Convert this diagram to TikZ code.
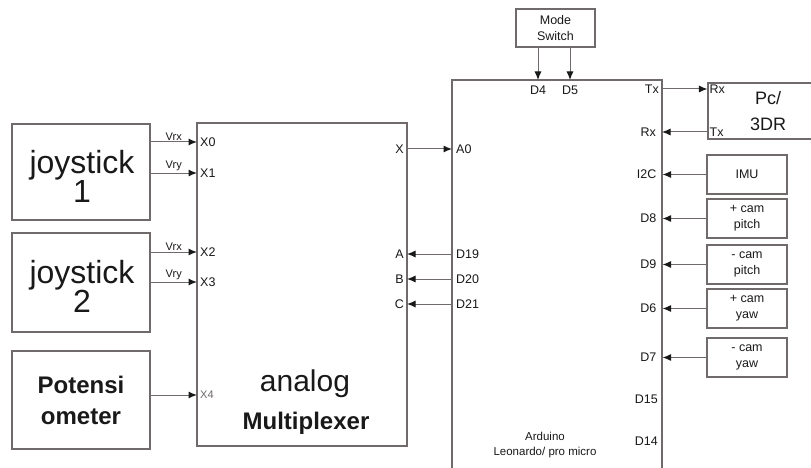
\documentclass[tikz,border=0pt]{standalone}
\usepackage{fontspec}
\setmainfont{Liberation Sans}
\usetikzlibrary{arrows.meta}
\definecolor{linec}{RGB}{112,106,106}
\definecolor{txt}{RGB}{25,25,25}
\begin{document}
\begin{tikzpicture}[x=1pt,y=-1pt,
 box/.style={draw=linec, line width=1.1pt, inner sep=0pt, align=center, text=txt},
 arr/.style={draw=linec, line width=1pt, -{Latex[length=8.5pt,width=7pt,color=txt]}},
 pin/.style={font=\fontsize{12.5}{14}\selectfont, text=txt, inner sep=1pt},
 sig/.style={font=\fontsize{11}{12}\selectfont, text=txt, inner sep=1.5pt},
 small/.style={font=\fontsize{12.5}{16}\selectfont}]
\useasboundingbox[fill=white] (0,0) rectangle (811,468);
% boxes
\node[box, minimum width=138pt, minimum height=96pt] (j1) at (81,172) {};
\node[box, minimum width=138pt, minimum height=99pt] (j2) at (81,282.5) {};
\node[box, minimum width=138pt, minimum height=98pt, font=\bfseries\fontsize{24}{31}\selectfont] (pot) at (81,400) {Potensi\\ometer};
\node[box, minimum width=210pt, minimum height=323pt] (mux) at (302,284.5) {};
\node[box, minimum width=210pt, minimum height=400pt] (ard) at (557,280) {};
\node[box, minimum width=79pt, minimum height=38pt, small, font=\fontsize{12.5}{15.5}\selectfont] (mode) at (555.5,28) {Mode\\Switch};
\node[box, minimum width=112pt, minimum height=56pt] (pc) at (764,111) {};
\node[box, minimum width=80pt, minimum height=39pt, small] (imu) at (747,174.5) {IMU};
\node[box, minimum width=80pt, minimum height=39pt, small] (cpp) at (747,218.5) {+ cam\\pitch};
\node[box, minimum width=80pt, minimum height=39pt, small] (cpm) at (747,264.5) {- cam\\pitch};
\node[box, minimum width=80pt, minimum height=39pt, small] (cyp) at (747,308.5) {+ cam\\yaw};
\node[box, minimum width=80pt, minimum height=39pt, small] (cym) at (747,357.5) {- cam\\yaw};
% box texts
\node[text=txt, align=center, font=\fontsize{32}{29}\selectfont] (j1t) at (82,176) {joystick\\1};
\node[text=txt, align=center, font=\fontsize{32}{29}\selectfont] (j2t) at (82,286) {joystick\\2};
\node[text=txt, font=\fontsize{30}{30}\selectfont] (an) at (305,384) {analog};
\node[text=txt, font=\bfseries\fontsize{24}{24}\selectfont] (mp) at (306,423) {Multiplexer};
\node[text=txt, align=center, font=\fontsize{18}{26}\selectfont] (pct) at (768,111) {Pc/\\3DR};
\node[text=txt, align=center, font=\fontsize{11.5}{15}\selectfont] (ardt) at (545,445) {Arduino\\Leonardo/ pro micro};
% coordinates
\coordinate (x0) at (197,142);
\coordinate (x1) at (197,173);
\coordinate (x2) at (197,252);
\coordinate (x3) at (197,282);
\coordinate (x4) at (197,395);
\coordinate (mX) at (407,149);
\coordinate (mA) at (407,254);
\coordinate (mB) at (407,279);
\coordinate (mC) at (407,304);
\coordinate (a0) at (452,149);
\coordinate (d19) at (452,254);
\coordinate (d20) at (452,279);
\coordinate (d21) at (452,304);
\coordinate (d4) at (538,80);
\coordinate (d5) at (570,80);
\coordinate (tx) at (662,89);
\coordinate (rx) at (662,132);
% connectors
\draw[arr] (j1.east |- x0) -- (x0) node[midway, above, sig] (l1) {Vrx};
\draw[arr] (j1.east |- x1) -- (x1) node[midway, above, sig] (l2) {Vry};
\draw[arr] (j2.east |- x2) -- (x2) node[midway, above, sig] (l3) {Vrx};
\draw[arr] (j2.east |- x3) -- (x3) node[midway, above, sig] (l4) {Vry};
\draw[arr] (pot.east |- x4) -- (x4);
\draw[arr] (mX) -- (a0);
\draw[arr] (d19) -- (mA);
\draw[arr] (d20) -- (mB);
\draw[arr] (d21) -- (mC);
\draw[arr] (mode.south -| d4) -- (d4);
\draw[arr] (mode.south -| d5) -- (d5);
\draw[arr] (tx) -- (pc.west |- tx);
\draw[arr] (pc.west |- rx) -- (rx);
\draw[arr] (imu.west) -- (imu.west -| ard.east);
\draw[arr] (cpp.west) -- (cpp.west -| ard.east);
\draw[arr] (cpm.west) -- (cpm.west -| ard.east);
\draw[arr] (cyp.west) -- (cyp.west -| ard.east);
\draw[arr] (cym.west) -- (cym.west -| ard.east);
% pin labels
\node[pin, anchor=west] (px0) at ([xshift=2pt]x0) {X0};
\node[pin, anchor=west] (px1) at ([xshift=2pt]x1) {X1};
\node[pin, anchor=west] (px2) at ([xshift=2pt]x2) {X2};
\node[pin, anchor=west] (px3) at ([xshift=2pt]x3) {X3};
\node[pin, anchor=west, font=\fontsize{11}{12}\selectfont, text=linec] (px4) at ([xshift=2pt]x4) {X4};
\node[pin, anchor=east] (pmx) at ([xshift=-2pt]mX) {X};
\node[pin, anchor=east] (pma) at ([xshift=-2pt]mA) {A};
\node[pin, anchor=east] (pmb) at ([xshift=-2pt]mB) {B};
\node[pin, anchor=east] (pmc) at ([xshift=-2pt]mC) {C};
\node[pin, anchor=west] (pa0) at ([xshift=3pt]a0) {A0};
\node[pin, anchor=west] (pd19) at ([xshift=3pt]d19) {D19};
\node[pin, anchor=west] (pd20) at ([xshift=3pt]d20) {D20};
\node[pin, anchor=west] (pd21) at ([xshift=3pt]d21) {D21};
\node[pin, anchor=north] (pd4) at ([yshift=-5pt]d4) {D4};
\node[pin, anchor=north] (pd5) at ([yshift=-5pt]d5) {D5};
\node[pin, anchor=east] (ptx) at ([xshift=-2pt]tx) {Tx};
\node[pin, anchor=east] (prx) at ([xshift=-5pt]rx) {Rx};
\node[pin, anchor=east] (pi2c) at ([xshift=-5pt]imu.west -| ard.east) {I2C};
\node[pin, anchor=east] (pd8) at ([xshift=-5pt]cpp.west -| ard.east) {D8};
\node[pin, anchor=east] (pd9) at ([xshift=-5pt]cpm.west -| ard.east) {D9};
\node[pin, anchor=east] (pd6) at ([xshift=-5pt]cyp.west -| ard.east) {D6};
\node[pin, anchor=east] (pd7) at ([xshift=-5pt]cym.west -| ard.east) {D7};
\node[pin, anchor=east] (pd15) at (659,399) {D15};
\node[pin, anchor=east] (pd14) at (659,441) {D14};
\node[pin, anchor=west] (prx2) at ([xshift=1pt]pc.west |- tx) {Rx};
\node[pin, anchor=west] (ptx2) at ([xshift=1pt]pc.west |- rx) {Tx};
\end{tikzpicture}
\end{document}
